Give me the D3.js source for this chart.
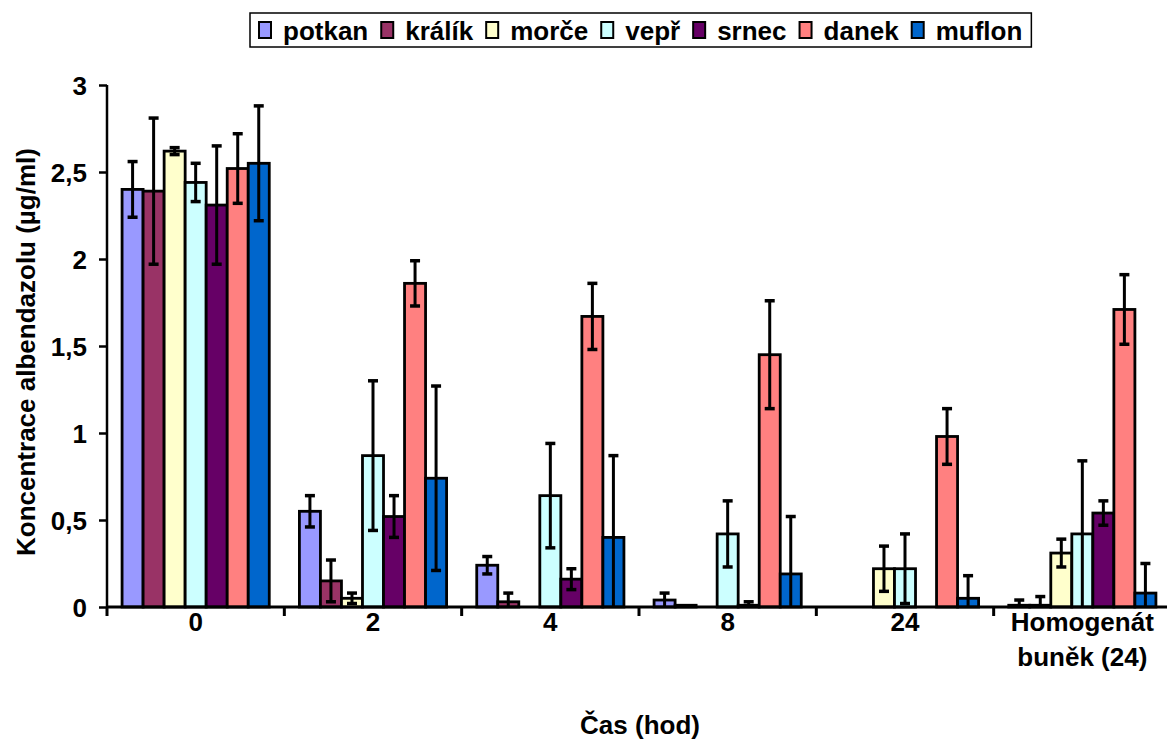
<!DOCTYPE html>
<html>
<head>
<meta charset="utf-8">
<script src="https://cdn.jsdelivr.net/npm/d3@7"></script>
<style>
  body { margin: 0; background: #fff; }
  text { font-family: "Liberation Sans", Arial, sans-serif; font-weight: bold; fill: #000; }
</style>
</head>
<body>
<div id="chart"></div>
<script>
// data
var categories = ["0", "2", "4", "8", "24", "Homogenát|buněk (24)"]
var series = ["potkan", "králík", "morče", "vepř", "srnec", "danek", "muflon"]
var colors = ["#9999FF", "#993366", "#FFFFCC", "#CCFFFF", "#660066", "#FF8080", "#0066CC"]

// values per series, one per category
var potkan = [2.40, 0.55, 0.24, 0.04, 0, 0.01]
var kralik = [2.39, 0.15, 0.03, 0.01, 0, 0.01]
var morce  = [2.62, 0.05, 0, 0, 0.22, 0.31]
var vepr   = [2.44, 0.87, 0.64, 0.42, 0.22, 0.42]
var srnec  = [2.31, 0.52, 0.16, 0.01, 0, 0.54]
var danek  = [2.52, 1.86, 1.67, 1.45, 0.98, 1.71]
var muflon = [2.55, 0.74, 0.40, 0.19, 0.05, 0.08]

// error bar half-lengths
var potkanErr = [0.16, 0.09, 0.05, 0.04, 0, 0.03]
var kralikErr = [0.42, 0.12, 0.05, 0, 0, 0.05]
var morceErr  = [0.02, 0.03, 0, 0, 0.13, 0.08]
var veprErr   = [0.11, 0.43, 0.30, 0.19, 0.20, 0.42]
var srnecErr  = [0.34, 0.12, 0.06, 0.02, 0, 0.07]
var danekErr  = [0.20, 0.13, 0.19, 0.31, 0.16, 0.20]
var muflonErr = [0.33, 0.53, 0.47, 0.33, 0.13, 0.17]

var yTicks = [0, 0.5, 1, 1.5, 2, 2.5, 3]

var values = [potkan, kralik, morce, vepr, srnec, danek, muflon]
var errors = [potkanErr, kralikErr, morceErr, veprErr, srnecErr, danekErr, muflonErr]

var width = 1167, height = 743
// plot area edges (window.top is taken, so prefix them)
var plotLeft = 107, plotRight = 1171, plotTop = 85, plotBottom = 607
var fontSize = "26px"

var svg = d3.select("#chart").append("svg")
  .attr("width", width)
  .attr("height", height)

var x0 = d3.scaleBand().domain(categories).range([plotLeft, plotRight])
var gap = x0.bandwidth() * 0.085
var x1 = d3.scaleBand().domain(series).range([gap, x0.bandwidth() - gap])
var y = d3.scaleLinear().domain([0, 3]).range([plotBottom, plotTop])

// build flat list of bars
var bars = []
categories.forEach(function(c, i) {
  series.forEach(function(s, j) {
    bars.push({cat: c, ser: s, val: values[j][i], err: errors[j][i], color: colors[j]})
  })
})

var g = svg.append("g")

g.selectAll(".bar")
  .data(bars)
  .enter().append("rect")
  .attr("class", "bar")
  .attr("x", function(d) { return x0(d.cat) + x1(d.ser) })
  .attr("y", function(d) { return y(d.val) })
  .attr("width", x1.bandwidth())
  .attr("height", function(d) { return y(0) - y(d.val) })
  .style("fill", function(d) { return d.color })
  .style("stroke", "#000")
  .style("stroke-width", 2.8)

// error bars
var eb = g.selectAll(".err")
  .data(bars.filter(function(d) { return d.err > 0 }))
  .enter().append("g")
  .attr("class", "err")
  .attr("transform", function(d) { return "translate(" + (x0(d.cat) + x1(d.ser) + x1.bandwidth() / 2) + ",0)" })

eb.append("line")
  .attr("y1", function(d) { return y(d.val + d.err) })
  .attr("y2", function(d) { return y(Math.max(0, d.val - d.err)) })
  .style("stroke", "#000").style("stroke-width", 3)
eb.append("line")
  .attr("x1", -5).attr("x2", 5)
  .attr("y1", function(d) { return y(d.val + d.err) })
  .attr("y2", function(d) { return y(d.val + d.err) })
  .style("stroke", "#000").style("stroke-width", 3.5)
eb.filter(function(d) { return d.val - d.err > 0 }).append("line")
  .attr("x1", -5).attr("x2", 5)
  .attr("y1", function(d) { return y(d.val - d.err) })
  .attr("y2", function(d) { return y(d.val - d.err) })
  .style("stroke", "#000").style("stroke-width", 3.5)

// y axis
var yAxis = svg.append("g")
  .attr("transform", "translate(" + plotLeft + ",0)")
  .call(d3.axisLeft(y).tickValues(yTicks).tickSize(8).tickPadding(12)
    .tickFormat(function(d) { return String(d).replace(".", ",") }))
yAxis.select(".domain").attr("d", "M0," + plotTop + "V" + plotBottom).style("stroke", "#000").style("stroke-width", 2.5)
yAxis.selectAll(".tick line").style("stroke", "#000").style("stroke-width", 2.5)
yAxis.selectAll(".tick text").style("font-size", fontSize).attr("dy", "0.35em")

// x axis: baseline + ticks at category boundaries
var xAxis = svg.append("g")
xAxis.append("line")
  .attr("x1", plotLeft).attr("x2", plotRight)
  .attr("y1", plotBottom).attr("y2", plotBottom)
  .style("stroke", "#000").style("stroke-width", 3)
var bounds = categories.map(function(c) { return x0(c) }).concat([plotRight])
xAxis.selectAll(".xtick")
  .data(bounds)
  .enter().append("line")
  .attr("x1", function(d) { return d }).attr("x2", function(d) { return d })
  .attr("y1", plotBottom).attr("y2", plotBottom + 9)
  .style("stroke", "#000").style("stroke-width", 3)

var labels = xAxis.selectAll(".xlab")
  .data(categories)
  .enter().append("text")
  .attr("text-anchor", "middle")
  .style("font-size", fontSize)
  .attr("transform", function(d) { return "translate(" + (x0(d) + x0.bandwidth() / 2) + ",631)" })
labels.selectAll("tspan")
  .data(function(d) { return d.split("|") })
  .enter().append("tspan")
  .attr("x", 0)
  .attr("dy", function(d, i) { return i === 0 ? 0 : 35 })
  .text(function(d) { return d })

// axis titles
svg.append("text")
  .attr("transform", "translate(35,352) rotate(-90)")
  .attr("text-anchor", "middle")
  .style("font-size", fontSize)
  .text("Koncentrace albendazolu (µg/ml)")

svg.append("text")
  .attr("x", 640).attr("y", 734)
  .attr("text-anchor", "middle")
  .style("font-size", fontSize)
  .text("Čas (hod)")

// legend
var legend = svg.append("g")
var lx = 259
var items = legend.selectAll(".item")
  .data(series)
  .enter().append("g")
  .attr("class", "item")
items.append("rect")
  .attr("y", 22).attr("width", 12).attr("height", 16)
  .style("fill", function(d, i) { return colors[i] })
  .style("stroke", "#000").style("stroke-width", 2)
items.append("text")
  .attr("x", 24).attr("y", 40)
  .style("font-size", fontSize)
  .text(function(d) { return d })
items.each(function() {
  var it = d3.select(this)
  it.attr("transform", "translate(" + lx + ",0)")
  lx += 24 + it.select("text").node().getComputedTextLength() + 13
})
legend.insert("rect", ":first-child")
  .attr("x", 250).attr("y", 13)
  .attr("width", lx - 250 - 4).attr("height", 34)
  .style("fill", "#fff").style("stroke", "#000").style("stroke-width", 1.5)
</script>
</body>
</html>
